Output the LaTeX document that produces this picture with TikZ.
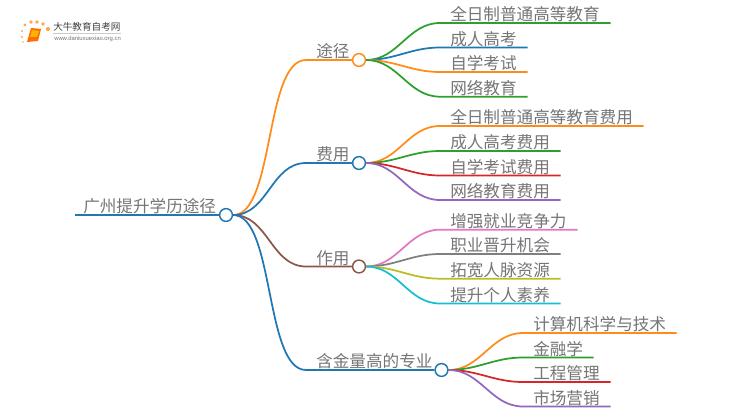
\documentclass[tikz,border=0pt]{standalone}
\usepackage{fontspec}
\setmainfont{Noto Sans CJK SC}
\newfontfamily\urlfont{Liberation Sans}
\usetikzlibrary{positioning}
\definecolor{corange}{HTML}{FF8C1A}
\definecolor{cgreen}{HTML}{2CA02C}
\definecolor{cblue}{HTML}{1F77B4}
\definecolor{cred}{HTML}{D62728}
\definecolor{cpurple}{HTML}{9467BD}
\definecolor{cbrown}{HTML}{8C564B}
\definecolor{cpink}{HTML}{E377C2}
\definecolor{cgray}{HTML}{7F7F7F}
\definecolor{colive}{HTML}{BCBD22}
\definecolor{ccyan}{HTML}{17BECF}
\definecolor{ctext}{HTML}{757575}
\tikzset{
    leaf/.style={anchor=south west,text width=#1*0.75pt,inner xsep=0pt,inner ysep=0pt,
        text height=10pt,text depth=1.6pt,text=ctext,font=\fontsize{12.45pt}{14pt}\selectfont,
        execute at begin node={\hskip 7.5pt}},
    hub/.style={circle,draw=#1,fill=white,line width=1.1pt,inner sep=0pt,minimum size=9.6pt},
    twig/.style={line width=1.3pt,rounded corners=0pt},
    longtwig/.style={twig,looseness=0.62}
}

\begin{document}
\begin{tikzpicture}[x=0.75pt,y=-0.75pt]
    \useasboundingbox (0,0) rectangle (750,410);
    % logo
    \fill[orange!70] (25,25) circle (1.5) (31,22) circle (1.8) (37,22) circle (1.8) (43,24) circle (1.8)
        (48,29) circle (2.1) (22,31) circle (1.2) (22,37) circle (1.1) (23,42) circle (0.9);
    \fill[orange!85!red] (31,28) -- (41,29) -- (38,41) -- (27,42) -- cycle;
    \fill[orange!60!yellow] (32,30) -- (39,31) -- (37,37) -- (30,37) -- cycle;
    \node[anchor=west,inner sep=0pt,text=black!75,font=\fontsize{7.2pt}{8pt}\selectfont] (brand) at (53,27) {大牛教育自考网};
    \draw[black!20,line width=0.4pt] (53,33.5) -- (121,33.5);
    \node[anchor=west,inner sep=0pt,text=black!55,font=\urlfont\fontsize{4.4pt}{5pt}\selectfont] (site) at (54,39) {www.daniuxuexiao.org.cn};

    % root and branches
    \node[leaf=145] (root) at (75,215) {\hspace*{-1.5pt}广州提升学历途径};
    \node[hub=cblue] (rootc) at (226,215) {};
    \node[leaf=46] (way) at (306,60) {途径};
    \node[hub=corange] (wayc) at (359,60) {};
    \node[leaf=46] (fee) at (306,163) {费用};
    \node[hub=cblue] (feec) at (359,163) {};
    \node[leaf=46] (use) at (306,266.5) {作用};
    \node[hub=cbrown] (usec) at (359,266.5) {};
    \node[leaf=129] (major) at (306,370) {含金量高的专业};
    \node[hub=cblue] (majorc) at (441.5,370) {};

    % leaves
    \node[leaf=170] (way1) at (440,23) {全日制普通高等教育};
    \node[leaf=87] (way2) at (440,47.5) {成人高考};
    \node[leaf=87] (way3) at (440,72) {自学考试};
    \node[leaf=87] (way4) at (440,96.7) {网络教育};
    \node[leaf=203] (fee1) at (440,126) {全日制普通高等教育费用};
    \node[leaf=120] (fee2) at (440,151) {成人高考费用};
    \node[leaf=120] (fee3) at (440,175.5) {自学考试费用};
    \node[leaf=120] (fee4) at (440,200) {网络教育费用};
    \node[leaf=137] (use1) at (440,229.7) {增强就业竞争力};
    \node[leaf=120] (use2) at (440,254) {职业晋升机会};
    \node[leaf=120] (use3) at (440,278.7) {拓宽人脉资源};
    \node[leaf=120] (use4) at (440,303.5) {提升个人素养};
    \node[leaf=153] (major1) at (523,333) {计算机科学与技术};
    \node[leaf=70] (major2) at (523,357.5) {金融学};
    \node[leaf=87] (major3) at (523,382) {工程管理};
    \node[leaf=87] (major4) at (523,406.5) {市场营销};

    % connectors
    \draw[twig,cblue] (root.south west) -- (rootc.west);
    \draw[longtwig,corange] (rootc.east) to[out=0,in=180] (way.south west) -- (wayc.west);
    \draw[twig,cblue] (rootc.east) to[out=0,in=180] (fee.south west) -- (feec.west);
    \draw[twig,cbrown] (rootc.east) to[out=0,in=180] (use.south west) -- (usec.west);
    \draw[longtwig,cblue] (rootc.east) to[out=0,in=180] (major.south west) -- (majorc.west);

    \draw[twig,cgreen] (wayc.east) to[out=0,in=180] (way1.south west) -- (way1.south east);
    \draw[twig,cblue] (wayc.east) to[out=0,in=180] (way2.south west) -- (way2.south east);
    \draw[twig,corange] (wayc.east) to[out=0,in=180] (way3.south west) -- (way3.south east);
    \draw[twig,cgreen] (wayc.east) to[out=0,in=180] (way4.south west) -- (way4.south east);

    \draw[twig,corange] (feec.east) to[out=0,in=180] (fee1.south west) -- (fee1.south east);
    \draw[twig,cgreen] (feec.east) to[out=0,in=180] (fee2.south west) -- (fee2.south east);
    \draw[twig,cred] (feec.east) to[out=0,in=180] (fee3.south west) -- (fee3.south east);
    \draw[twig,cpurple] (feec.east) to[out=0,in=180] (fee4.south west) -- (fee4.south east);

    \draw[twig,cpink] (usec.east) to[out=0,in=180] (use1.south west) -- (use1.south east);
    \draw[twig,cgray] (usec.east) to[out=0,in=180] (use2.south west) -- (use2.south east);
    \draw[twig,colive] (usec.east) to[out=0,in=180] (use3.south west) -- (use3.south east);
    \draw[twig,ccyan] (usec.east) to[out=0,in=180] (use4.south west) -- (use4.south east);

    \draw[twig,corange] (majorc.east) to[out=0,in=180] (major1.south west) -- (major1.south east);
    \draw[twig,cgreen] (majorc.east) to[out=0,in=180] (major2.south west) -- (major2.south east);
    \draw[twig,cred] (majorc.east) to[out=0,in=180] (major3.south west) -- (major3.south east);
    \draw[twig,cpurple] (majorc.east) to[out=0,in=180] (major4.south west) -- (major4.south east);
\end{tikzpicture}
\end{document}
